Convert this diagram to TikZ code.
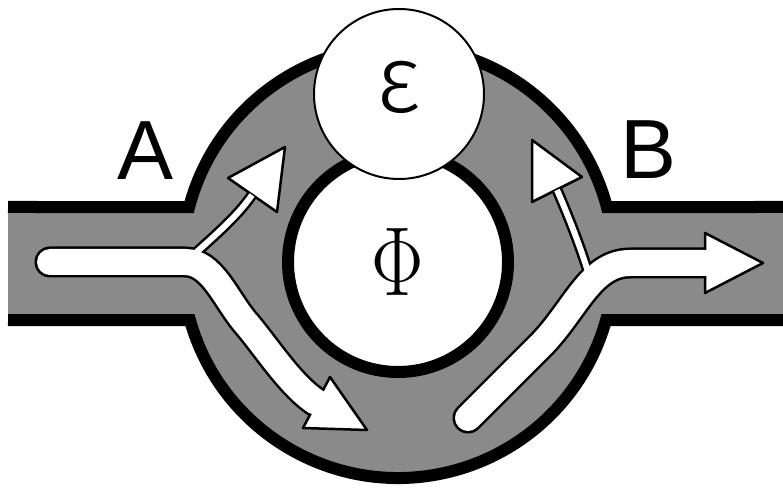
\documentclass[tikz,border=0pt]{standalone}
\usepackage{fontspec}
\usepackage{graphicx}
\newfontfamily\portfont{Liberation Sans}
\IfFontExistsTF{Fira Sans Light}
  {\newfontfamily\couplerfont{Fira Sans Light}}
  {\newfontfamily\couplerfont{Liberation Sans}}
\usetikzlibrary{calc}
\definecolor{guideGray}{HTML}{8A8A8A}
\tikzset{
  guideEdge/.style={draw=black, line width=12pt, line join=miter},
  flowBack/.style={draw=black, line width=31pt, line cap=round},
  flowFront/.style={draw=white, line width=26pt, line cap=round},
  tapBack/.style={draw=black, line width=11pt},
  tapFront/.style={draw=white, line width=6pt},
  flowHead/.style={draw=black, fill=white, line width=2.5pt, line join=round},
  ringCore/.style={circle, draw=black, fill=white, line width=12pt,
    minimum size=220pt, inner sep=0pt,
    font=\fontsize{98}{100}\selectfont},
  ringCoupler/.style={circle, draw=black, fill=white, line width=2pt,
    minimum size=170pt, inner sep=0pt,
    font=\couplerfont\fontsize{96}{100}\selectfont,
    text height=50pt, text depth=12pt},
  portLabel/.style={font=\portfont\fontsize{84}{90}\selectfont, inner sep=0pt}
}
% centre lines of the white flow arrows
\newcommand{\pathFlowIn}{(50,228) -- (185,228)
  .. controls (212,228) and (225,192) .. (245,168)
  .. controls (265,145) and (290,105) .. (316,88)}
\newcommand{\pathFlowOut}{(468,72) -- (540,144)
  .. controls (575,179) and (590,227) .. (630,227) -- (705,227)}
\newcommand{\pathTapIn}{(190,232) .. controls (212,252) and (237,273) .. (252,295)}
\newcommand{\pathTapOut}{(590,212) .. controls (580,245) and (567,277) .. (557,300)}

\begin{document}
\begin{tikzpicture}[x=1pt,y=1pt]
  \useasboundingbox (0,0) rectangle (783,490);
  \coordinate (c) at (398,228);
  \coordinate (jTL) at ($(c)+(165.25:216pt)$);
  \coordinate (jBR) at ($(c)+(-15.58:216pt)$);
  \coordinate (jBL) at ($(c)+(195.58:216pt)$);

  % waveguide and ring
  \fill[guideGray] (8,283) -- (jTL)
    arc[start angle=165.25, end angle=14.75, radius=216pt]
    -- (783,283) -- (783,170) -- (jBR)
    arc[start angle=-15.58, end angle=-164.42, radius=216pt]
    -- (8,170) -- cycle;
  \draw[guideEdge] (8,283) -- (jTL)
    arc[start angle=165.25, end angle=14.75, radius=216pt] -- (783,283);
  \draw[guideEdge] (8,170) -- (jBL)
    arc[start angle=195.58, end angle=344.42, radius=216pt] -- (783,170);

  \node[ringCore] (core) at (c) {\scalebox{0.8}[1]{Φ}};

  % flows
  \draw[flowBack] \pathFlowIn;
  \draw[flowBack] \pathFlowOut;
  \draw[tapBack] \pathTapIn;
  \draw[tapBack] \pathTapOut;
  \draw[flowHead] (367,60) -- (330,113) -- (303,62) -- cycle;
  \draw[flowHead] (763,227) -- (705,257) -- (705,197) -- cycle;
  \draw[flowHead] (285,343) -- (228,312) -- (277,278) -- cycle;
  \draw[flowHead] (532,350) -- (532,288) -- (582,313) -- cycle;
  \draw[flowFront] \pathFlowIn;
  \draw[flowFront] \pathFlowOut;
  \draw[tapFront] \pathTapIn;
  \draw[tapFront] \pathTapOut;

  \node[ringCoupler] (coupler) at (399,396) {ε};
  \node[portLabel] (portA) at (146,339) {A};
  \node[portLabel] (portB) at (649,340) {B};
\end{tikzpicture}
\end{document}
